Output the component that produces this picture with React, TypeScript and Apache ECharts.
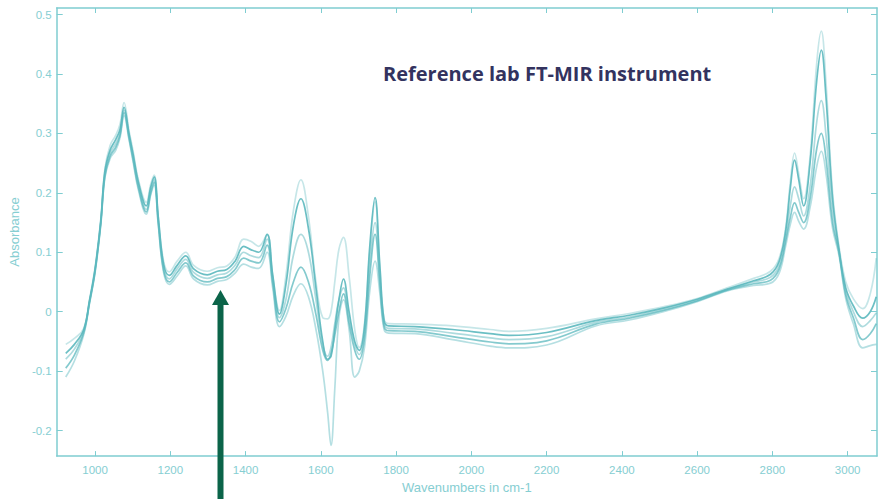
import React, { useEffect, useRef } from "react";
import * as echarts from "echarts";

const wavenumbers = [922, 945, 970, 985, 1000, 1015, 1026, 1040, 1055, 1066, 1077, 1090, 1101, 1115, 1136, 1148, 1157, 1168, 1182, 1197, 1218, 1241, 1262, 1298, 1325, 1350, 1372, 1395, 1415, 1435, 1457, 1472, 1490, 1507, 1527, 1547, 1567, 1587, 1605, 1618, 1627, 1637, 1648, 1660, 1675, 1690, 1702, 1716, 1730, 1744, 1757, 1768, 1780, 1850, 1950, 2050, 2100, 2200, 2330, 2420, 2510, 2600, 2680, 2750, 2795, 2818, 2835, 2848, 2859, 2870, 2883, 2900, 2918, 2930, 2942, 2960, 2977, 2995, 3015, 3040, 3060, 3076];

const spectrumA = [-0.055, -0.045, -0.028, 0.02, 0.075, 0.155, 0.24, 0.28, 0.297, 0.315, 0.352, 0.305, 0.27, 0.222, 0.184, 0.215, 0.23, 0.16, 0.085, 0.067, 0.085, 0.1, 0.078, 0.068, 0.074, 0.077, 0.092, 0.122, 0.118, 0.11, 0.13, 0.06, 0.002, 0.06, 0.17, 0.222, 0.16, 0.05, -0.01, -0.012, 0.0, 0.05, 0.105, 0.125, 0.06, -0.03, -0.06, -0.02, 0.1, 0.185, 0.07, -0.012, -0.02, -0.021, -0.024, -0.03, -0.033, -0.028, -0.012, -0.003, 0.008, 0.022, 0.04, 0.056, 0.068, 0.09, 0.14, 0.22, 0.267, 0.232, 0.19, 0.26, 0.42, 0.472, 0.39, 0.2, 0.11, 0.05, 0.022, 0.005, 0.03, 0.09];
const spectrumB = [-0.07, -0.055, -0.03, 0.018, 0.072, 0.152, 0.236, 0.272, 0.29, 0.306, 0.344, 0.3, 0.265, 0.218, 0.178, 0.21, 0.227, 0.158, 0.08, 0.061, 0.078, 0.094, 0.072, 0.062, 0.068, 0.071, 0.085, 0.11, 0.104, 0.1, 0.13, 0.062, -0.004, 0.045, 0.145, 0.19, 0.14, 0.04, -0.05, -0.08, -0.075, -0.03, 0.02, 0.055, 0.0, -0.05, -0.065, -0.025, 0.11, 0.192, 0.075, -0.015, -0.024, -0.025, -0.03, -0.037, -0.04, -0.035, -0.015, -0.006, 0.006, 0.021, 0.038, 0.052, 0.063, 0.085, 0.135, 0.21, 0.255, 0.222, 0.178, 0.25, 0.39, 0.44, 0.365, 0.19, 0.105, 0.04, 0.01, -0.011, 0.0, 0.025];
const spectrumC = [-0.08, -0.063, -0.032, 0.016, 0.07, 0.15, 0.232, 0.267, 0.283, 0.3, 0.339, 0.297, 0.26, 0.213, 0.172, 0.205, 0.222, 0.153, 0.075, 0.055, 0.072, 0.088, 0.066, 0.056, 0.062, 0.065, 0.078, 0.1, 0.094, 0.091, 0.122, 0.055, -0.01, 0.02, 0.095, 0.13, 0.1, 0.02, -0.055, -0.075, -0.06, -0.02, 0.02, 0.04, -0.01, -0.055, -0.072, -0.035, 0.08, 0.15, 0.055, -0.02, -0.028, -0.029, -0.036, -0.044, -0.047, -0.042, -0.018, -0.009, 0.004, 0.019, 0.037, 0.05, 0.058, 0.078, 0.125, 0.18, 0.21, 0.19, 0.161, 0.21, 0.32, 0.355, 0.3, 0.17, 0.1, 0.035, 0.0, -0.025, -0.015, -0.002];
const spectrumD = [-0.095, -0.073, -0.035, 0.015, 0.068, 0.148, 0.228, 0.262, 0.277, 0.296, 0.335, 0.293, 0.256, 0.209, 0.168, 0.2, 0.218, 0.148, 0.07, 0.05, 0.066, 0.082, 0.06, 0.05, 0.056, 0.059, 0.071, 0.09, 0.085, 0.082, 0.112, 0.048, -0.017, 0.005, 0.05, 0.075, 0.05, -0.005, -0.065, -0.082, -0.07, -0.04, 0.0, 0.03, -0.02, -0.065, -0.08, -0.045, 0.06, 0.13, 0.045, -0.025, -0.032, -0.033, -0.042, -0.051, -0.054, -0.049, -0.021, -0.011, 0.002, 0.018, 0.036, 0.047, 0.053, 0.072, 0.118, 0.16, 0.183, 0.167, 0.15, 0.19, 0.275, 0.3, 0.26, 0.15, 0.1, 0.028, -0.01, -0.047, -0.037, -0.02];
const spectrumE = [-0.11, -0.083, -0.038, 0.013, 0.066, 0.145, 0.225, 0.258, 0.272, 0.292, 0.33, 0.29, 0.252, 0.205, 0.164, 0.197, 0.213, 0.145, 0.066, 0.046, 0.06, 0.077, 0.055, 0.045, 0.051, 0.054, 0.065, 0.08, 0.075, 0.073, 0.1, 0.04, -0.025, -0.008, 0.028, 0.047, 0.025, -0.03, -0.1, -0.17, -0.225, -0.13, -0.01, 0.02, -0.03, -0.11, -0.1, -0.06, 0.035, 0.085, 0.03, -0.03, -0.036, -0.037, -0.047, -0.058, -0.061, -0.056, -0.024, -0.014, 0.0, 0.017, 0.035, 0.044, 0.048, 0.065, 0.11, 0.148, 0.167, 0.152, 0.139, 0.175, 0.245, 0.27, 0.235, 0.14, 0.095, 0.022, -0.02, -0.061, -0.057, -0.055];

const spectra = [spectrumA, spectrumB, spectrumC, spectrumD, spectrumE];
const spectrumOpacity = [0.35, 0.9, 0.5, 0.75, 0.45];

const xTicks = [1000, 1200, 1400, 1600, 1800, 2000, 2200, 2400, 2600, 2800, 3000];
const yTicks = [-0.2, -0.1, 0, 0.1, 0.2, 0.3, 0.4, 0.5];

const TEAL = "#7fcdd1";
const LABEL = "#86ced2";

export default function App() {
  const ref = useRef<HTMLDivElement>(null);
  useEffect(() => {
    if (!ref.current) return;
    const chart = echarts.init(ref.current, undefined, { renderer: "svg" });
    const axisCommon = {
      type: "value" as const,
      axisLine: { show: true, onZero: false, lineStyle: { color: TEAL, width: 1.5 } },
      splitLine: { show: false },
    };
    const plain = (v: number) => String(v);
    chart.setOption({
      animation: false,
      backgroundColor: "#ffffff",
      title: {
        text: "Reference lab FT-MIR instrument",
        left: 378,
        top: 58,
        textStyle: { fontFamily: "Open Sans", fontWeight: "bold", fontSize: 20, color: "#33335f" },
      },
      grid: { left: 53, right: 4, top: 8, bottom: 40, show: false },
      xAxis: [
        {
          ...axisCommon,
          position: "bottom",
          min: 898,
          max: 3078,
          name: "Wavenumbers in cm-1",
          nameLocation: "middle",
          nameGap: 24,
          nameTextStyle: { color: LABEL, fontSize: 13, fontFamily: "Liberation Sans" },
          axisTick: { show: true, inside: true, length: 5, customValues: xTicks, lineStyle: { color: TEAL } },
          axisLabel: { show: true, margin: 8, customValues: xTicks, formatter: plain, color: LABEL, fontSize: 11.5, fontFamily: "Liberation Sans" },
        },
        {
          ...axisCommon,
          position: "top",
          min: 898,
          max: 3078,
          axisTick: { show: true, inside: true, length: 5, customValues: xTicks, lineStyle: { color: TEAL } },
          axisLabel: { show: false },
        },
      ],
      yAxis: [
        {
          ...axisCommon,
          position: "left",
          min: -0.243,
          max: 0.511,
          name: "Absorbance",
          nameLocation: "middle",
          nameGap: 30,
          nameTextStyle: { color: LABEL, fontSize: 13, fontFamily: "Liberation Sans" },
          axisTick: { show: true, inside: true, length: 6, customValues: yTicks, lineStyle: { color: TEAL } },
          axisLabel: { show: true, margin: 5, customValues: yTicks, formatter: plain, color: LABEL, fontSize: 11.5, fontFamily: "Liberation Sans" },
        },
        {
          ...axisCommon,
          position: "right",
          min: -0.243,
          max: 0.511,
          axisTick: { show: true, inside: true, length: 6, customValues: yTicks, lineStyle: { color: TEAL } },
          axisLabel: { show: false },
        },
      ],
      series: spectra.map((s, i) => ({
        type: "line",
        xAxisIndex: 0,
        yAxisIndex: 0,
        showSymbol: false,
        smooth: 0.4,
        data: wavenumbers.map((w, j) => [w, s[j]]),
        lineStyle: { color: "#5bb8be", width: 1.7, opacity: spectrumOpacity[i] },
        z: 2,
      })),
      graphic: [
        {
          type: "rect",
          shape: { x: 217.5, y: 303, width: 6, height: 200 },
          style: { fill: "#0b6449" },
          z: 100,
        },
        {
          type: "polygon",
          shape: { points: [[212, 305], [229, 305], [220.5, 290]] },
          style: { fill: "#0b6449" },
          z: 100,
        },
      ],
    });
    return () => chart.dispose();
  }, []);
  return (
    <div
      ref={ref}
      style={{ position: "fixed", left: 0, top: 0, width: 881, height: 499 }}
    />
  );
}
